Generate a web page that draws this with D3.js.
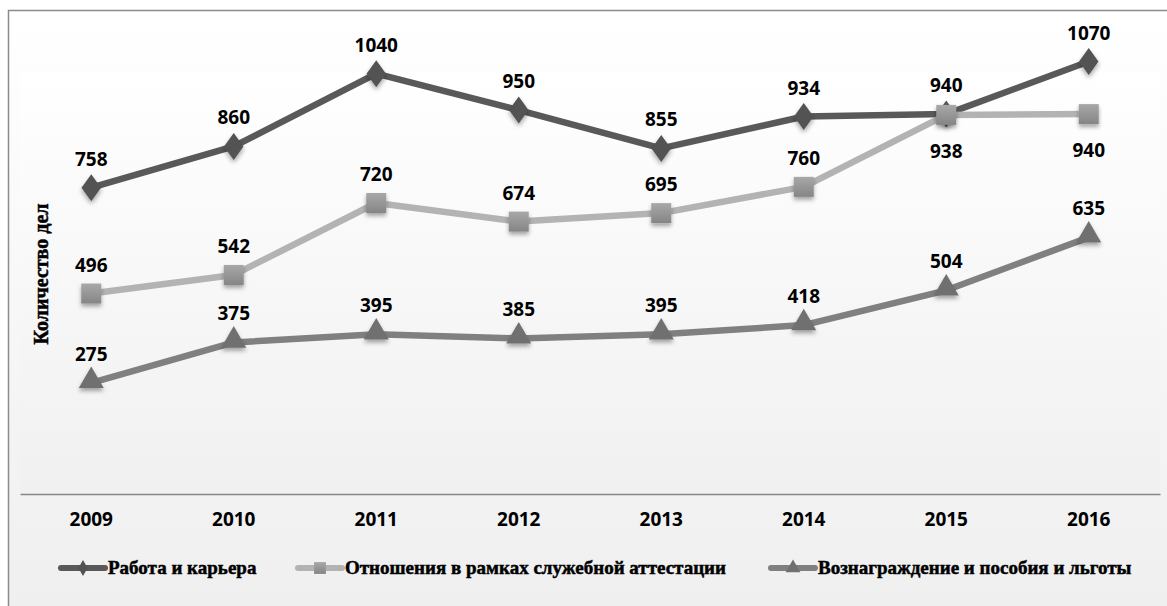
<!DOCTYPE html>
<html>
<head>
<meta charset="utf-8">
<script src="https://cdn.jsdelivr.net/npm/d3@7"></script>
<style>
  html, body { margin: 0; padding: 0; background: #ffffff; }
  svg { display: block; }
</style>
</head>
<body>
<svg id="chart" width="1167" height="606"></svg>
<script>
// Yearly case counts by dispute category
const years = ["2009", "2010", "2011", "2012", "2013", "2014", "2015", "2016"];
const workCareer = [758, 860, 1040, 950, 855, 934, 940, 1070];
const attestation = [496, 542, 720, 674, 695, 760, 938, 940];
const rewards = [275, 375, 395, 385, 395, 418, 504, 635];
const seriesNames = [
  "Работа и карьера",
  "Отношения в рамках служебной аттестации",
  "Вознаграждение и пособия и льготы"
];
const yTitle = "Количество дел";

const svg = d3.select("#chart");
const W = 1167, H = 606;
const plot = { left: 20, right: 1160, top: 72, bottom: 494 };
const labelFont = "'Open Sans', 'Noto Sans', sans-serif";
const serifFont = "'Liberation Serif', 'Times New Roman', serif";

const defs = svg.append("defs");
const gOuter = defs.append("linearGradient").attr("id", "outerBg").attr("x1", 0).attr("y1", 0).attr("x2", 0).attr("y2", 1);
gOuter.append("stop").attr("offset", "0%").attr("stop-color", "#ffffff");
gOuter.append("stop").attr("offset", "100%").attr("stop-color", "#efefef");
const gPlot = defs.append("linearGradient").attr("id", "plotBg").attr("x1", 0).attr("y1", 0).attr("x2", 0).attr("y2", 1);
gPlot.append("stop").attr("offset", "0%").attr("stop-color", "#ffffff");
gPlot.append("stop").attr("offset", "100%").attr("stop-color", "#f0f0f0");
const gSq = defs.append("linearGradient").attr("id", "sqFill").attr("x1", 0).attr("y1", 0).attr("x2", 0).attr("y2", 1);
gSq.append("stop").attr("offset", "0%").attr("stop-color", "#a8a8a8");
gSq.append("stop").attr("offset", "100%").attr("stop-color", "#858585");
const shadow = defs.append("filter").attr("id", "shadow").attr("x", "-50%").attr("y", "-50%").attr("width", "200%").attr("height", "200%");
shadow.append("feDropShadow").attr("dx", 0).attr("dy", 3).attr("stdDeviation", 2)
  .attr("flood-color", "#000").attr("flood-opacity", 0.35);

// chart frame and backgrounds
svg.append("rect").attr("x", 8.5).attr("y", 10.5).attr("width", W).attr("height", H)
  .attr("fill", "url(#outerBg)").attr("stroke", "#8c8c8c").attr("stroke-width", 1.5);
svg.append("rect").attr("x", plot.left).attr("y", plot.top)
  .attr("width", plot.right - plot.left).attr("height", plot.bottom - plot.top)
  .attr("fill", "url(#plotBg)");

const x = d3.scaleBand().domain(years).range([plot.left, plot.right]).padding(0);
const cx = d => x(d) + x.bandwidth() / 2;
const y = d3.scaleLinear().domain([0, 1200]).range([plot.bottom, 9]);

// category axis
const xAxis = svg.append("g").attr("transform", `translate(0,${plot.bottom})`)
  .call(d3.axisBottom(x).tickSize(0).tickPadding(19));
xAxis.select(".domain").attr("stroke", "#868686").attr("stroke-width", 1.5);
xAxis.selectAll("text")
  .attr("font-family", labelFont).attr("font-weight", "bold")
  .attr("font-size", 19).attr("fill", "#000");

// y axis title
svg.append("text")
  .attr("transform", `translate(48,274) rotate(-90)`)
  .attr("text-anchor", "middle")
  .attr("font-family", serifFont)
  .attr("font-weight", "bold").attr("font-size", 20).attr("fill", "#000")
  .attr("stroke", "#000").attr("stroke-width", 0.5)
  .text(yTitle);

const series = [
  { name: seriesNames[0], values: workCareer, color: "#595959", marker: d3.symbolDiamond, size: 210, fill: "#525252", below: [] },
  { name: seriesNames[1], values: attestation, color: "#b3b3b3", marker: d3.symbolSquare, size: 400, fill: "url(#sqFill)", below: ["2015", "2016"] },
  { name: seriesNames[2], values: rewards, color: "#808080", marker: d3.symbolTriangle, size: 270, fill: "#707070", below: [] }
];

const line = d3.line().x(d => cx(d.year)).y(d => y(d.value));

series.forEach(s => {
  const pts = years.map((yr, i) => ({ year: yr, value: s.values[i] }));
  s.pts = pts;
  svg.append("path").datum(pts)
    .attr("d", line).attr("fill", "none")
    .attr("stroke", s.color).attr("stroke-width", 6.5).attr("stroke-linejoin", "round");
});

series.forEach(s => {
  const sym = d3.symbol().type(s.marker).size(s.size);
  svg.append("g").selectAll("path").data(s.pts).join("path")
    .attr("d", sym)
    .attr("transform", d => {
      const scaleX = s.marker === d3.symbolDiamond ? 1.25 : 1;
      const off = s.marker === d3.symbolTriangle ? -2 : 0;
      return `translate(${cx(d.year)},${y(d.value) + off}) scale(${scaleX},1)`;
    })
    .attr("fill", s.fill)
    .attr("filter", "url(#shadow)");
});

// value labels
series.forEach(s => {
  svg.append("g").selectAll("text").data(s.pts).join("text")
    .attr("x", d => cx(d.year))
    .attr("y", d => s.below.includes(d.year) ? y(d.value) + 43 : y(d.value) - 22)
    .attr("text-anchor", "middle")
    .attr("font-family", labelFont).attr("font-weight", "bold")
    .attr("font-size", 19).attr("fill", "#000")
    .text(d => d.value);
});

// legend
const legendX = [58, 295, 768];
const legendY = 568;
series.forEach((s, i) => {
  const g = svg.append("g").attr("transform", `translate(${legendX[i]},${legendY})`);
  g.append("line").attr("x1", 3).attr("x2", 47).attr("y1", 0).attr("y2", 0)
    .attr("stroke", s.color).attr("stroke-width", 6).attr("stroke-linecap", "round");
  const small = d3.symbol().type(s.marker).size(s.size * 0.35);
  g.append("path").attr("d", small).attr("transform", `translate(25,0)`).attr("fill", s.fill);
  g.append("text").attr("x", 50).attr("y", 6)
    .attr("font-family", serifFont)
    .attr("font-weight", "bold").attr("font-size", 19).attr("fill", "#000")
    .attr("stroke", "#000").attr("stroke-width", 0.5)
    .text(s.name);
});
</script>
</body>
</html>
